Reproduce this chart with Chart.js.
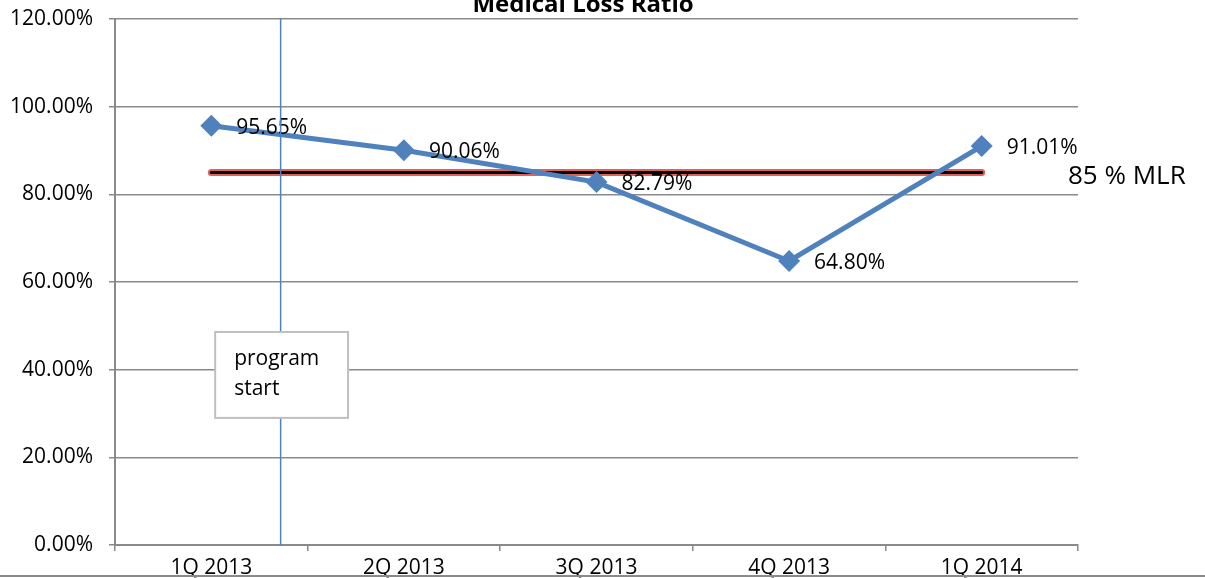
<!DOCTYPE html>
<html>
<head>
<meta charset="utf-8">
<script src="https://cdn.jsdelivr.net/npm/chart.js@4"></script>
<style>
  html, body { margin: 0; padding: 0; background: #fff; }
  #graph-parent { width: 1205px; height: 578px; position: relative; }
</style>
</head>
<body>
<div id="graph-parent">
  <canvas id="graph"></canvas>
</div>
<script>
// data
const quarters = ['1Q 2013', '2Q 2013', '3Q 2013', '4Q 2013', '1Q 2014']
const mlrValues = [95.65, 90.06, 82.79, 64.80, 91.01]
const targetValues = [85, 85, 85, 85, 85]
const yTicks = [0, 20, 40, 60, 80, 100, 120]
const targetLabel = '85 % MLR'
const noteLines = ['program', 'start']

const FONT = "'Open Sans', 'Liberation Sans', sans-serif"
const GRID = '#8a8a8a'
const BLUE = '#4f81bd'

// note box + start line, in scale units (category index / percent)
const startAt = 0.36
const noteBox = { x0: 0.02, x1: 0.71, yTop: 48.6, yBottom: 29.0 }

const extras = {
  id: 'extras',
  afterDatasetsDraw(chart) {
    const ctx = chart.ctx
    const meta = chart.getDatasetMeta(0)
    ctx.save()
    ctx.font = '21px ' + FONT
    ctx.fillStyle = '#000'
    ctx.textAlign = 'left'
    ctx.textBaseline = 'middle'
    meta.data.forEach((pt, i) => {
      ctx.fillText(mlrValues[i].toFixed(2) + '%', pt.x + 25, pt.y + 2)
    })
    ctx.restore()
  },
  afterDraw(chart) {
    const ctx = chart.ctx
    const x = chart.scales.x
    const y = chart.scales.y
    const area = chart.chartArea
    ctx.save()

    // title, partly off the top edge
    ctx.font = 'bold 24px ' + FONT
    ctx.fillStyle = '#000'
    ctx.textAlign = 'center'
    ctx.textBaseline = 'alphabetic'
    ctx.fillText('Medical Loss Ratio', 583, 12)

    // target label at the right
    ctx.font = '26px ' + FONT
    ctx.textAlign = 'left'
    ctx.textBaseline = 'middle'
    ctx.fillText(targetLabel, 1068, y.getPixelForValue(targetValues[0]) + 4)

    // program start line
    const lx = x.getPixelForValue(startAt)
    ctx.strokeStyle = BLUE
    ctx.lineWidth = 1.5
    ctx.beginPath()
    ctx.moveTo(lx, area.top)
    ctx.lineTo(lx, area.bottom)
    ctx.stroke()

    // note box
    const bx0 = x.getPixelForValue(noteBox.x0)
    const bx1 = x.getPixelForValue(noteBox.x1)
    const by0 = y.getPixelForValue(noteBox.yTop)
    const by1 = y.getPixelForValue(noteBox.yBottom)
    ctx.fillStyle = '#fff'
    ctx.fillRect(bx0, by0, bx1 - bx0, by1 - by0)
    ctx.strokeStyle = '#bfbfbf'
    ctx.lineWidth = 2
    ctx.strokeRect(bx0, by0, bx1 - bx0, by1 - by0)
    ctx.fillStyle = '#000'
    ctx.font = '21px ' + FONT
    ctx.textBaseline = 'middle'
    noteLines.forEach((t, i) => ctx.fillText(t, bx0 + 19, by0 + 27 + i * 30))

    // frame line at the bottom
    ctx.strokeStyle = GRID
    ctx.lineWidth = 2
    ctx.beginPath()
    ctx.moveTo(0, 576)
    ctx.lineTo(chart.width, 576)
    ctx.stroke()
    ctx.restore()
  }
}

const ctx = document.getElementById('graph').getContext('2d')
const graph = new Chart(ctx, {
  type: 'line',
  data: {
    labels: quarters,
    datasets: [{
      label: 'MLR',
      data: mlrValues,
      borderColor: BLUE,
      backgroundColor: BLUE,
      borderWidth: 5,
      pointStyle: 'rectRot',
      pointRadius: 11,
      pointHoverRadius: 11,
      pointBorderWidth: 0,
      tension: 0
    }, {
      label: 'target core',
      data: targetValues,
      borderColor: '#000',
      borderWidth: 3,
      borderCapStyle: 'round',
      pointRadius: 0
    }, {
      label: 'target glow',
      data: targetValues,
      borderColor: '#e06060',
      borderWidth: 7,
      borderCapStyle: 'round',
      pointRadius: 0
    }]
  },
  options: {
    responsive: true,
    maintainAspectRatio: false,
    animation: false,
    layout: { padding: { top: 19, right: 127, left: 0, bottom: 0 } },
    plugins: {
      legend: { display: false },
      title: { display: false },
      tooltip: { enabled: false }
    },
    scales: {
      x: {
        offset: true,
        grid: { offset: true, drawOnChartArea: false, drawTicks: true, tickLength: 6, color: GRID, lineWidth: 1.5 },
        border: { color: GRID, width: 2 },
        ticks: { color: '#000', font: { family: FONT, size: 21 }, padding: 4, maxRotation: 0 },
        afterFit(scale) { scale.height = 33 }
      },
      y: {
        min: 0,
        max: 120,
        afterBuildTicks(scale) { scale.ticks = yTicks.map(v => ({ value: v })) },
        grid: { color: GRID, lineWidth: 1.5, tickLength: 6 },
        border: { color: GRID, width: 2 },
        ticks: {
          color: '#000',
          font: { family: FONT, size: 21 },
          padding: 16,
          callback: v => v.toFixed(2) + '%'
        },
        afterFit(scale) {
          scale.width = 115
          scale.paddingTop = 0
          scale.paddingBottom = 0
        }
      }
    }
  },
  plugins: [extras]
})
</script>
</body>
</html>
